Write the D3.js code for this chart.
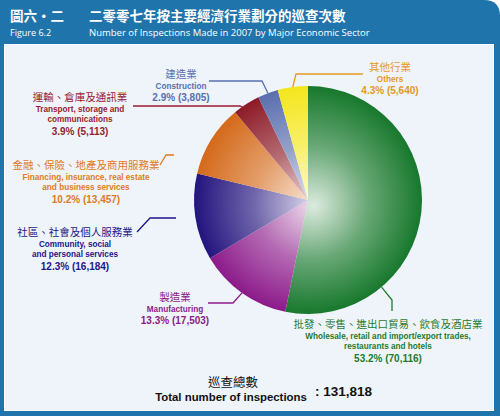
<!DOCTYPE html>
<html><head><meta charset="utf-8">
<script src="https://cdn.jsdelivr.net/npm/d3@7"></script>
<style>
html,body{margin:0;padding:0;background:#fff;}
svg{display:block;}
</style></head>
<body>
<script>
// ---- data ----
const categoriesZh = ["批發、零售、進出口貿易、飲食及酒店業","製造業","社區、社會及個人服務業","金融、保險、地產及商用服務業","運輸、倉庫及通訊業","建造業","其他行業"];
const categoriesEn = [["Wholesale, retail and import/export trades,","restaurants and hotels"],["Manufacturing"],["Community, social","and personal services"],["Financing, insurance, real estate","and business services"],["Transport, storage and","communications"],["Construction"],["Others"]];
const values = [70116,17503,16184,13457,5113,3805,5640];
const colors = ["#17782c","#8c1a8a","#23137e","#d4691a","#8c1a26","#5a6fae","#f4e61c"];
const labelColors = ["#1e7a2e","#8c1a8a","#24158a","#e07a1c","#981c30","#5a6fb0","#e39a1e"];
const total = 131818;

// ---- layout (label anchors & leader elbows) ----
const W=500,H=416, cx=308, cy=200, R=114;
const labelPos = [[388,328],[175,301],[75,236],[86,169],[80,101],[181,78],[390,71]];
const leaders = [
  [[392,311],[392,300]],
  [[208,303],[233,303]],
  [[137,232],[150,218],[176,218]],
  [[160,165],[166,155],[174,155]],
  [[133,106],[240,106]],
  [[209,81],[262,81]],
  [[363,74],[296,74]]
];
// leaders that reach the pie: [fraction of slice angle, radius factor]
const leaderEnd = [[0.73,1.0],[0.5,1.0],null,null,[0.45,0.94],[0.5,1.0],[0.5,1.0]];

const svg = d3.select("body").append("svg").attr("width",W).attr("height",H)
  .style("font-family","'Liberation Sans',Arial,sans-serif");

// frame
svg.append("rect").attr("x",0).attr("y",0).attr("width",W).attr("height",H).attr("fill","#fff");
svg.append("path").attr("fill","#1f74ab")
  .attr("d",`M0,0 H${W-16} Q${W},0 ${W},16 V${H} H0 Z`);
svg.append("rect").attr("x",4).attr("y",44).attr("width",490).attr("height",367).attr("fill","#ffffff");
svg.append("rect").attr("x",5).attr("y",45).attr("width",488).attr("height",365).attr("fill","#eef4fa");

// header
const cjk = "'Noto Sans CJK TC','Noto Sans CJK SC',sans-serif";
svg.append("text").attr("x",10).attr("y",21).attr("fill","#fff").attr("font-family",cjk)
  .attr("font-weight","bold").attr("font-size",13.5).text("圖六・二");
svg.append("text").attr("x",10).attr("y",36).attr("fill","#fff").attr("font-family","'Open Sans',sans-serif")
  .attr("font-size",9).text("Figure 6.2");
svg.append("text").attr("x",89).attr("y",21).attr("fill","#fff").attr("font-family",cjk)
  .attr("font-weight","bold").attr("font-size",13.5).text("二零零七年按主要經濟行業劃分的巡查次數");
svg.append("text").attr("x",89).attr("y",36).attr("fill","#fff").attr("font-family","'Open Sans',sans-serif")
  .attr("font-size",9.5).text("Number of Inspections Made in 2007 by Major Economic Sector");

// pie
const pie = d3.pie().sort(null).value(d=>d)(values);
const arc = d3.arc().innerRadius(0).outerRadius(R);
const defs = svg.append("defs");
colors.forEach((c,i)=>{
  const g = defs.append("radialGradient").attr("id","g"+i).attr("gradientUnits","userSpaceOnUse")
    .attr("cx",0).attr("cy",0).attr("r",R).attr("fx",6).attr("fy",6);
  g.append("stop").attr("offset","0").attr("stop-color",d3.interpolateRgb(c,"#ffffff")(0.85));
  g.append("stop").attr("offset","0.5").attr("stop-color",d3.interpolateRgb(c,"#ffffff")(0.35));
  g.append("stop").attr("offset","1").attr("stop-color",c);
});
const gp = svg.append("g").attr("transform",`translate(${cx},${cy})`);
gp.selectAll("path").data(pie).join("path").attr("d",arc).attr("fill",(d,i)=>`url(#g${i})`);

// leaders
leaders.forEach((pts,i)=>{
  const p = pts.slice();
  const e = leaderEnd[i];
  if(e){
    const d = pie[i];
    const a = d.startAngle + (d.endAngle-d.startAngle)*e[0];
    p.push([cx+R*e[1]*Math.sin(a), cy-R*e[1]*Math.cos(a)]);
  }
  svg.append("path").attr("d",d3.line()(p)).attr("fill","none")
    .attr("stroke",labelColors[i]).attr("stroke-width",1.3);
});

// labels
labelPos.forEach((pos,i)=>{
  const g = svg.append("g").attr("fill",labelColors[i]).attr("text-anchor","middle");
  let y = pos[1];
  g.append("text").attr("x",pos[0]).attr("y",y).attr("font-family",cjk).attr("font-size",10.5).text(categoriesZh[i]);
  categoriesEn[i].forEach(l=>{
    y += 10.5;
    g.append("text").attr("x",pos[0]).attr("y",y).attr("font-weight","bold").attr("font-size",8.2).text(l);
  });
  y += 12.5;
  const pct = (values[i]/total*100).toFixed(1);
  g.append("text").attr("x",pos[0]).attr("y",y).attr("font-weight","bold").attr("font-size",10)
    .text(`${pct}% (${d3.format(",")(values[i])})`);
});

// total
svg.append("text").attr("x",233).attr("y",387).attr("text-anchor","middle").attr("font-family",cjk)
  .attr("font-size",12.5).attr("fill","#111").text("巡查總數");
svg.append("text").attr("x",231).attr("y",401).attr("text-anchor","middle").attr("font-weight","bold")
  .attr("font-size",11.4).attr("fill","#111").text("Total number of inspections");
svg.append("text").attr("x",315).attr("y",396).attr("font-weight","bold")
  .attr("font-size",13.5).attr("fill","#111").text(": " + d3.format(",")(total));
</script>
</body></html>
